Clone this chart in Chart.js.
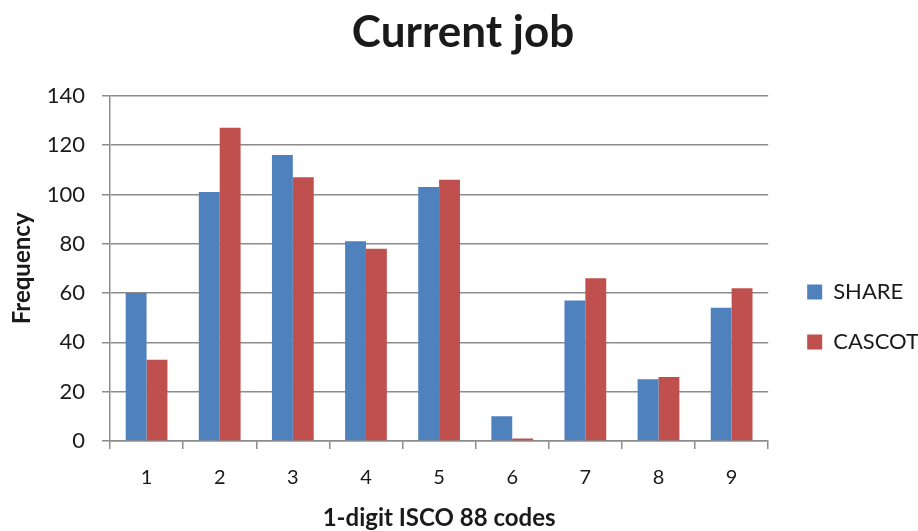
<!DOCTYPE html>
<html>
<head>
<meta charset="utf-8">
<script src="https://cdn.jsdelivr.net/npm/chart.js@4/dist/chart.umd.min.js"></script>
<style>
  html, body { margin: 0; padding: 0; background: #fff; }
  #wrap { width: 918px; height: 531px; }
</style>
</head>
<body>
<div id="wrap"><canvas id="c" width="918" height="531"></canvas></div>
<script>
const categories = ['1', '2', '3', '4', '5', '6', '7', '8', '9'];
const shareValues = [60, 101, 116, 81, 103, 10, 57, 25, 54];
const cascotValues = [33, 127, 107, 78, 106, 1, 66, 26, 62];
const seriesNames = ['SHARE', 'CASCOT'];
const yTicks = [0, 20, 40, 60, 80, 100, 120, 140];

const FONT = 'Lato, "Open Sans", sans-serif';
const gridColor = '#8c8c8c';
const textColor = '#1a1a1a';

const shiftLegend = {
  id: 'shiftLegend',
  afterLayout(chart) {
    const lg = chart.legend;
    if (lg) { lg.left += 11; lg.right += 11; }
  }
};

new Chart(document.getElementById('c'), {
  type: 'bar',
  data: {
    labels: categories,
    datasets: [
      { label: seriesNames[0], data: shareValues, backgroundColor: '#4F81BD', borderWidth: 0 },
      { label: seriesNames[1], data: cascotValues, backgroundColor: '#C0504D', borderWidth: 0 }
    ]
  },
  plugins: [shiftLegend],
  options: {
    responsive: false,
    animation: false,
    devicePixelRatio: 1,
    categoryPercentage: 0.571,
    barPercentage: 1,
    layout: { padding: { left: 8, right: 0, top: 6, bottom: 0 } },
    plugins: {
      title: {
        display: true,
        text: 'Current job',
        color: textColor,
        font: { family: FONT, size: 44, weight: 'bold' },
        padding: { top: 0, bottom: 37 }
      },
      legend: {
        position: 'right',
        title: { display: true, text: '', font: { size: 1 }, padding: { top: 96, bottom: 0 } },
        labels: {
          color: textColor,
          font: { family: FONT, size: 22 },
          boxWidth: 15,
          boxHeight: 15,
          padding: 28
        }
      },
      tooltip: { enabled: false }
    },
    scales: {
      x: {
        afterFit: (scale) => { scale.height = 90; },
        grid: { display: true, drawOnChartArea: false, drawTicks: true, tickLength: 8, color: gridColor, lineWidth: 1.5 },
        border: { color: gridColor, width: 1.5 },
        ticks: { color: textColor, font: { family: FONT, size: 20 }, padding: 17 },
        title: { display: true, text: '1-digit ISCO 88 codes', color: textColor, font: { family: FONT, size: 24, weight: 'bold' }, padding: { top: 0, bottom: -2 } }
      },
      y: {
        min: 0, max: 140,
        afterBuildTicks: (axis) => { axis.ticks = yTicks.map(v => ({ value: v })); },
        afterFit: (scale) => { scale.width = 102; },
        grid: { color: gridColor, lineWidth: 1.5, tickLength: 8 },
        border: { color: gridColor, width: 1.5 },
        ticks: { color: textColor, font: { family: FONT, size: 22 }, padding: 17 },
        title: { display: true, text: 'Frequency', color: textColor, font: { family: FONT, size: 24, weight: 'bold' }, padding: { top: 0, bottom: 0 } }
      }
    }
  }
});
</script>
</body>
</html>
